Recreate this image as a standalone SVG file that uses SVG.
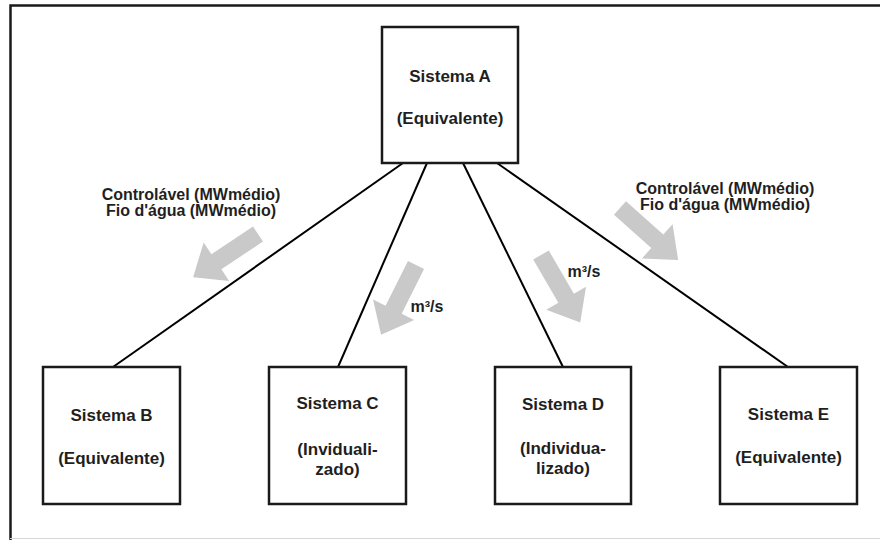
<svg xmlns="http://www.w3.org/2000/svg" width="880" height="540" viewBox="0 0 880 540">
<style>
.box{fill:#fff;stroke:#1a1a1a;stroke-width:2.5}
.t{font-family:"Liberation Sans",Arial,sans-serif;font-weight:bold;font-size:17px;fill:#1f1f1f;text-anchor:middle}
.lb{font-family:"Liberation Sans",Arial,sans-serif;font-weight:bold;font-size:16px;fill:#1f1f1f;text-anchor:middle}
.edge{stroke:#000;stroke-width:2;fill:none}
.blk{fill:#c9c9c9}
</style>
<defs>
<path id="arr" d="M0,-9 H50 V-23 L78,0 L50,23 V9 H0 Z"/>
</defs>
<rect width="880" height="540" fill="#fff"/>
<path d="M10.5,540 V5.5 H880" fill="none" stroke="#1a1a1a" stroke-width="2.5"/>
<line x1="10" y1="538.5" x2="880" y2="538.5" stroke="#d8d8d8" stroke-width="1"/>
<g id="connectors">
<line class="edge" x1="403" y1="163" x2="113" y2="367"/>
<line class="edge" x1="427" y1="163" x2="338" y2="367"/>
<line class="edge" x1="463" y1="163" x2="563" y2="367"/>
<line class="edge" x1="497" y1="163" x2="788" y2="367"/>
</g>
<g id="flows">
<use href="#arr" class="blk" transform="translate(258,234) rotate(146.3)"/>
<use href="#arr" class="blk" transform="translate(620,208) rotate(41.8)"/>
<use href="#arr" class="blk" transform="translate(416,265) rotate(116.6)"/>
<use href="#arr" class="blk" transform="translate(541,255) rotate(59.8)"/>
<text class="lb" x="191" y="200">Controlável (MWmédio)</text>
<text class="lb" x="191" y="216">Fio d'água (MWmédio)</text>
<text class="lb" x="725" y="194">Controlável (MWmédio)</text>
<text class="lb" x="725" y="210">Fio d'água (MWmédio)</text>
<text class="lb" x="427" y="312">m³/s</text>
<text class="lb" x="584" y="277">m³/s</text>
</g>
<g id="nodeA">
<rect class="box" x="382" y="27" width="136" height="136"/>
<text class="t" x="450" y="82">Sistema A</text>
<text class="t" x="450" y="124">(Equivalente)</text>
</g>
<g id="nodeB">
<rect class="box" x="43" y="367" width="137" height="137"/>
<text class="t" x="111.5" y="421">Sistema B</text>
<text class="t" x="111.5" y="464">(Equivalente)</text>
</g>
<g id="nodeC">
<rect class="box" x="269" y="367" width="137" height="137"/>
<text class="t" x="337.5" y="409">Sistema C</text>
<text class="t" x="337.5" y="455">(Inviduali-</text>
<text class="t" x="337.5" y="475">zado)</text>
</g>
<g id="nodeD">
<rect class="box" x="495" y="367" width="136" height="137"/>
<text class="t" x="563" y="410">Sistema D</text>
<text class="t" x="563" y="454">(Individua-</text>
<text class="t" x="563" y="474">lizado)</text>
</g>
<g id="nodeE">
<rect class="box" x="720" y="367" width="137" height="137"/>
<text class="t" x="788.5" y="420">Sistema E</text>
<text class="t" x="788.5" y="463">(Equivalente)</text>
</g>
</svg>
